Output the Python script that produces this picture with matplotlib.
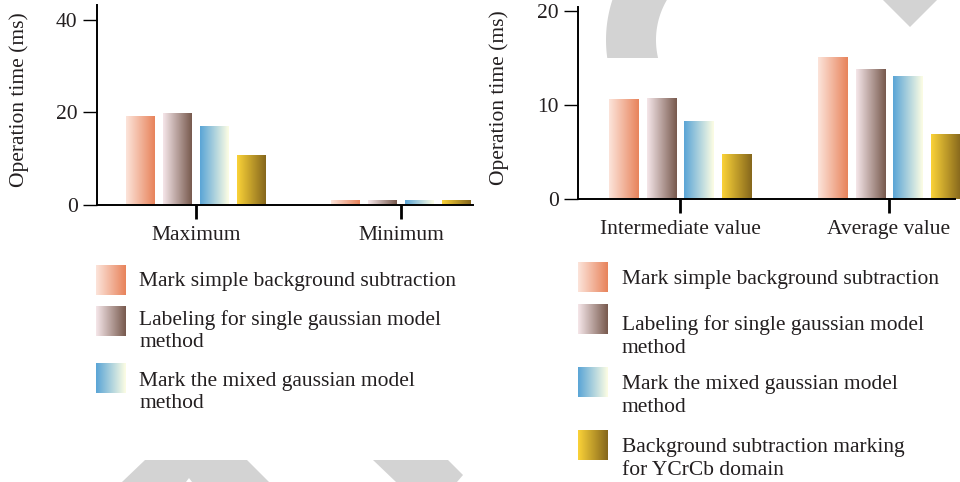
import numpy as np
import matplotlib
matplotlib.use("Agg")
import matplotlib.pyplot as plt
from matplotlib.colors import to_rgb
from matplotlib.patches import Polygon

plt.rcParams['font.family'] = ['Liberation Serif', 'DejaVu Serif']

# operation time (ms) per method
methods = ['Mark simple background subtraction',
           'Labeling for single gaussian model\nmethod',
           'Mark the mixed gaussian model\nmethod',
           'Background subtraction marking\nfor YCrCb domain']
cats_left = ['Maximum', 'Minimum']
vals_left = [[19.2, 1.0],
             [19.7, 1.0],
             [16.9, 0.9],
             [10.8, 0.9]]
cats_right = ['Intermediate value', 'Average value']
vals_right = [[10.6, 15.0],
              [10.7, 13.8],
              [8.2, 13.0],
              [4.7, 6.9]]

# left -> right colour ramps for each method
ramps = [('#fce4da', '#e8835b'),
         ('#f5e6e9', '#785a4e'),
         ('#5aa5d6', '#fdfde4'),
         ('#fad238', '#86671c')]

W, H = 960, 482


def fx(px):
    return px / W


def fy(py):
    return 1 - py / H


def ramp_img(c0, c1, n=64):
    a, b = np.array(to_rgb(c0)), np.array(to_rgb(c1))
    t = np.linspace(0, 1, n)[:, None]
    return (a + (b - a) * t)[None, :, :]


fig = plt.figure(figsize=(W / 100, H / 100), dpi=100)

# grey watermark shapes behind everything
grey = '#d3d3d3'
ys = np.linspace(0, 58, 40)
cx, cy, r_out, r_in = 735, 40, 129, 79
outer = [(cx - np.sqrt(r_out**2 - (y - cy)**2), y) for y in ys]
inner = [(cx - np.sqrt(r_in**2 - (y - cy)**2), y) for y in ys[::-1]]
shapes = [outer + inner,
          [(883, 0), (937, 0), (910, 27)],
          [(145, 460), (247, 460), (269, 482), (192, 482), (189, 478), (186, 482), (122, 482)],
          [(373, 460), (448, 460), (463, 475), (457, 482), (396, 482)]]
for pts in shapes:
    fig.patches.append(Polygon([(fx(x), fy(y)) for x, y in pts], closed=True,
                               transform=fig.transFigure, facecolor=grey,
                               edgecolor='none', zorder=-5))

TXT = '#231f20'


def panel(rect, cats, vals, ymax, yticks, xlim, clip=True):
    ax = fig.add_axes(rect)
    ax.set_facecolor('none')
    width, step = 0.14, 0.18
    for i, series in enumerate(vals):
        for j, v in enumerate(series):
            x0 = j + (i - 1.5) * step - width / 2
            im = ax.imshow(ramp_img(*ramps[i]), extent=[x0, x0 + width, 0, v],
                           aspect='auto', interpolation='bicubic', zorder=2)
            im.set_clip_on(clip)
    ax.set_xlim(*xlim)
    ax.set_ylim(0, ymax)
    ax.set_xticks(range(len(cats)))
    ax.set_xticklabels(cats, fontsize=15.5, color=TXT)
    ax.set_yticks(yticks)
    ax.tick_params(axis='y', labelsize=15.5, labelcolor=TXT, length=10, width=1, pad=4)
    ax.tick_params(axis='x', length=10, width=2, pad=5)
    for s in ['top', 'right']:
        ax.spines[s].set_visible(False)
    for s in ['left', 'bottom']:
        ax.spines[s].set_linewidth(1.4)
    ax.set_ylabel('Operation time (ms)', fontsize=15.5, color=TXT)
    return ax


ax1 = panel([fx(97), fy(205), fx(473) - fx(97), fy(5) - fy(205)],
            cats_left, vals_left, 43.2, [0, 20, 40], (-0.483, 1.351))
ax1.yaxis.set_label_coords(-0.18, 0.525)

# last bar runs past the end of the axis line
ax2 = panel([fx(578), fy(199), fx(955) - fx(578), fy(7) - fy(199)],
            cats_right, vals_right, 20.4, [0, 10, 20], (-0.488, 1.316), clip=False)
ax2.yaxis.set_label_coords(-0.182, 0.526)


def legend(items, px, tx, tops, text_tops, fs, ls):
    for i, top, ttop in zip(items, tops, text_tops):
        lax = fig.add_axes([fx(px), fy(top + 30), fx(30), 30 / H])
        lax.imshow(ramp_img(*ramps[i]), aspect='auto', interpolation='bicubic')
        lax.axis('off')
        fig.text(fx(tx), fy(ttop), methods[i], fontsize=fs, va='top',
                 ha='left', linespacing=ls, color=TXT)


legend([0, 1, 2], 96, 139, [265, 306, 363], [272, 310, 372], 15.5, 1.2)
legend([0, 1, 2, 3], 578, 622, [262, 304, 367, 430], [270, 315, 375, 438], 15.5, 1.32)

fig.savefig('out.png', dpi=100)
